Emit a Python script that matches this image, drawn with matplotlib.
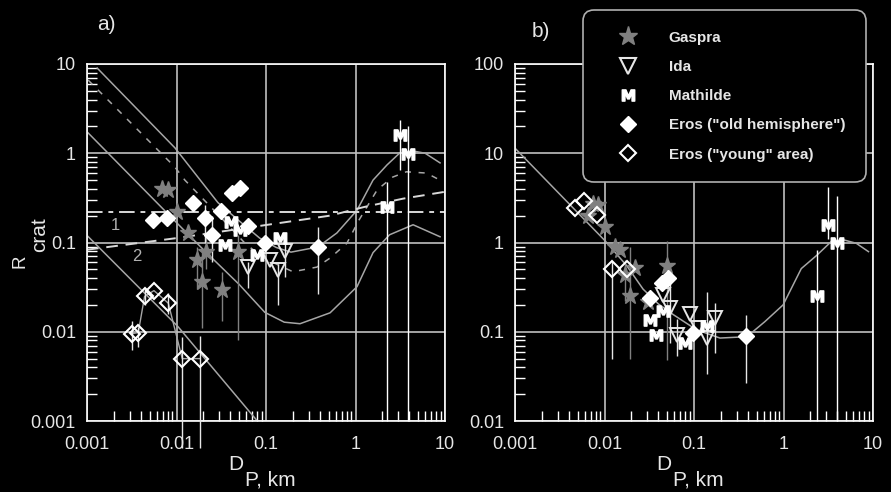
import matplotlib
matplotlib.use('Agg')
import matplotlib.pyplot as plt
import numpy as np
from matplotlib.lines import Line2D
from matplotlib.ticker import LogLocator, FuncFormatter, NullFormatter

plt.rcParams['font.family'] = ['Liberation Sans', 'DejaVu Sans']
nan = np.nan

# ---- panel a) data ----
gas_a_x = [0.0068, 0.0081, 0.010, 0.0136, 0.0216, 0.0168, 0.0191, 0.0319, 0.0486]
gas_a_y = [0.395, 0.39, 0.22, 0.127, 0.079, 0.064, 0.0364, 0.0293, 0.079]
gas_a_lo = [nan, nan, nan, nan, 0.05, 0.03, 0.0109, 0.0132, 0.0081]
gas_a_hi = [nan, nan, nan, nan, 0.12, 0.09, 0.083, 0.047, 0.12]

ida_a_x = [0.0636, 0.111, 0.137, 0.163]
ida_a_y = [0.0532, 0.064, 0.049, 0.081]
ida_a_lo = [0.031, nan, 0.0198, 0.041]
ida_a_hi = [0.061, nan, 0.058, 0.1]

mat_a_x = [0.041, 0.051, 0.035, 0.079, 0.143, 3.17, 3.86, 2.27]
mat_a_y = [0.17, 0.138, 0.094, 0.072, 0.112, 1.6, 0.98, 0.25]
mat_a_lo = [nan, nan, nan, nan, nan, 0.65, 0.001, 0.001]
mat_a_hi = [nan, nan, nan, nan, nan, 2.36, 2.0, 0.48]

old_a_x = [0.0055, 0.0079, 0.0154, 0.0208, 0.0314, 0.0413, 0.0513, 0.0247, 0.0636, 0.098, 0.38]
old_a_y = [0.18, 0.19, 0.28, 0.187, 0.228, 0.357, 0.405, 0.122, 0.152, 0.1, 0.089]
old_a_lo = [nan, nan, nan, 0.1, nan, nan, nan, 0.06, nan, nan, 0.0268]
old_a_hi = [nan, nan, nan, 0.26, nan, nan, nan, 0.2, nan, nan, 0.15]

young_a_x = [0.00316, 0.00374, 0.0044, 0.0056, 0.0081, 0.0116, 0.0183]
young_a_y = [0.0095, 0.0098, 0.0249, 0.0289, 0.0209, 0.005, 0.005]
young_a_lo = [0.0063, 0.0068, 0.02, nan, 0.016, 0.0005, 0.0005]
young_a_hi = [0.0132, 0.0114, 0.03, nan, 0.027, 0.0088, 0.009]

# model curves, panel a)
curve_a1_x = [0.0013, 0.0096, 0.029, 0.05, 0.085, 0.13, 0.19, 0.38, 0.62, 1.04, 1.57, 2.25, 3.1, 4.4, 6.0, 8.8]
curve_a1_y = [9.0, 1.15, 0.28, 0.175, 0.112, 0.088, 0.078, 0.089, 0.128, 0.23, 0.5, 0.74, 1.0, 1.06, 1.0, 0.78]
curve_a2_x = [0.00103, 0.0096, 0.0124, 0.03, 0.06, 0.1, 0.2, 0.37, 0.52, 0.8, 1.1, 1.75, 2.6, 3.7, 6.2, 9.5]
curve_a2_y = [6.6, 0.70, 0.5, 0.2, 0.095, 0.065, 0.047, 0.053, 0.067, 0.098, 0.18, 0.39, 0.54, 0.62, 0.6, 0.48]
curve_a3_x = [0.001, 0.0115, 0.0213, 0.05, 0.097, 0.16, 0.24, 0.52, 1.04, 1.57, 2.4, 4.4, 8.8]
curve_a3_y = [1.74, 0.145, 0.078, 0.034, 0.0165, 0.0128, 0.0123, 0.0163, 0.032, 0.077, 0.122, 0.158, 0.116]
curve_a4_x = [0.001, 0.0104, 0.08]
curve_a4_y = [0.12, 0.0114, 0.001]
line1_x = [0.001, 10]
line1_y = [0.22, 0.22]
line2_x = [0.001, 0.01, 0.14, 0.52, 1.25, 3.4, 10]
line2_y = [0.083, 0.112, 0.165, 0.2, 0.25, 0.31, 0.37]

# ---- panel b) data ----
gas_b_x = [0.0074, 0.0085, 0.0065, 0.0101, 0.0131, 0.0149, 0.0169, 0.0219, 0.0193, 0.0494, 0.0306]
gas_b_y = [2.7, 2.6, 2.0, 1.5, 0.89, 0.83, 0.43, 0.515, 0.25, 0.54, 0.216]
gas_b_lo = [nan, nan, nan, nan, nan, nan, 0.22, nan, 0.05, 0.048, nan]
gas_b_hi = [nan, nan, nan, nan, nan, nan, 0.64, nan, 0.9, 1.05, nan]

ida_b_x = [0.045, 0.054, 0.09, 0.171, 0.064, 0.138, 0.111]
ida_b_y = [0.258, 0.184, 0.16, 0.141, 0.093, 0.085, 0.11]
ida_b_lo = [nan, 0.074, nan, 0.058, 0.054, 0.034, nan]
ida_b_hi = [nan, 0.38, nan, 0.21, 0.14, 0.28, nan]

mat_b_x = [0.032, 0.038, 0.079, 0.138, 0.045, 3.17, 4.0, 2.36]
mat_b_y = [0.137, 0.093, 0.074, 0.115, 0.17, 1.57, 0.98, 0.249]
mat_b_lo = [nan, nan, nan, nan, nan, 1.1, 0.01, 0.01]
mat_b_hi = [nan, nan, nan, nan, nan, 4.2, 3.3, 0.83]

old_b_x = [0.0435, 0.051, 0.0321, 0.0981, 0.386]
old_b_y = [0.35, 0.40, 0.238, 0.096, 0.0887]
old_b_lo = [nan, nan, nan, nan, 0.0266]
old_b_hi = [nan, nan, nan, nan, 0.154]

young_b_x = [0.0047, 0.0059, 0.0083, 0.012, 0.0177]
young_b_y = [2.42, 2.9, 2.03, 0.5, 0.5]
young_b_lo = [nan, nan, nan, 0.05, nan]
young_b_hi = [nan, nan, nan, 0.62, nan]

curve_b_x = [0.001, 0.0101, 0.0177, 0.027, 0.04, 0.059, 0.107, 0.195, 0.39, 0.62, 0.99, 1.58, 2.36, 3.4, 4.7, 6.5, 8.9]
curve_b_y = [11.4, 1.05, 0.55, 0.3, 0.205, 0.155, 0.105, 0.085, 0.088, 0.13, 0.2, 0.51, 0.72, 1.02, 1.07, 0.98, 0.79]

legend_labels = ['Gaspra', 'Ida', 'Mathilde', 'Eros ("old hemisphere")', 'Eros ("young" area)']

BG = 'black'
FG = '#e6e6e6'
GRID = '#c0c0c0'
STAR = '#808080'
CURVE = '#a6a6a6'

W, H = 891, 492
fig = plt.figure(figsize=(W / 100, H / 100), dpi=100, facecolor=BG)


def make_axes(left, right, ylim):
    ax = fig.add_axes([left / W, 1 - 421 / H, (right - left) / W, (421 - 64) / H])
    ax.set_facecolor(BG)
    ax.set_xscale('log')
    ax.set_yscale('log')
    ax.set_xlim(0.001, 10)
    ax.set_ylim(*ylim)
    for s in ax.spines.values():
        s.set_color('white')
        s.set_linewidth(1.2)
    fmt = FuncFormatter(lambda v, _: f'{v:g}')
    ax.xaxis.set_major_locator(LogLocator(base=10, numticks=10))
    ax.yaxis.set_major_locator(LogLocator(base=10, numticks=10))
    ax.xaxis.set_major_formatter(fmt)
    ax.yaxis.set_major_formatter(fmt)
    ax.xaxis.set_minor_locator(LogLocator(base=10, subs=np.arange(2, 10), numticks=20))
    ax.yaxis.set_minor_locator(LogLocator(base=10, subs=np.arange(2, 10), numticks=20))
    ax.xaxis.set_minor_formatter(NullFormatter())
    ax.yaxis.set_minor_formatter(NullFormatter())
    ax.tick_params(which='both', direction='in', color='white', width=1.0,
                   labelcolor=FG, labelsize=13)
    ax.tick_params(which='major', length=0)
    ax.tick_params(which='minor', length=7)
    ax.tick_params(axis='x', which='major', pad=11)
    ax.tick_params(axis='y', which='major', pad=8)
    ax.grid(True, which='major', color=GRID, linewidth=1.2)
    ax.set_axisbelow(True)
    return ax


def errbars(ax, x, lo, hi, color):
    x = np.asarray(x)
    lo = np.asarray(lo)
    hi = np.asarray(hi)
    ok = ~np.isnan(lo)
    ax.vlines(x[ok], lo[ok], hi[ok], colors=color, linewidth=1.0, zorder=3, clip_on=False)


def points(ax, gx, gy, ix, iy, mx, my, ox, oy, yx, yy):
    ax.plot(gx, gy, ls='none', marker='*', ms=12.5, color=STAR, mec=STAR, zorder=5)
    ax.plot(ix, iy, ls='none', marker='v', ms=10, mfc='none', mec=FG, mew=1.4, zorder=5)
    ax.plot(ox, oy, ls='none', marker='D', ms=8, color='white', mec='white', zorder=6)
    ax.plot(yx, yy, ls='none', marker='D', ms=8, mfc='none', mec='white', mew=1.5, zorder=6)
    ax.plot(mx, my, ls='none', marker=r'$\mathbf{M}$', ms=9, color='white', zorder=7)


# ---- panel a) ----
ax1 = make_axes(87, 445, (0.001, 10))
ax1.plot(curve_a1_x, curve_a1_y, color=CURVE, lw=1.1, zorder=2)
ax1.plot(curve_a2_x, curve_a2_y, color=CURVE, lw=1.1, dashes=(4, 5), zorder=2)
ax1.plot(curve_a3_x, curve_a3_y, color=CURVE, lw=1.1, zorder=2)
ax1.plot(curve_a4_x, curve_a4_y, color=CURVE, lw=1.1, zorder=2)
ax1.plot(line1_x, line1_y, color='#d8d8d8', lw=1.4, dashes=(8, 3, 2.5, 3), zorder=2)
ax1.plot(line2_x, line2_y, color='#d8d8d8', lw=1.4, dashes=(6, 4), zorder=2)
ax1.plot(young_a_x, young_a_y, color=CURVE, lw=1.0, zorder=2)
ax1.text(0.00205, 0.157, '1', color='#b0b0b0', fontsize=12, ha='center', va='center')
ax1.text(0.0036, 0.069, '2', color='#b0b0b0', fontsize=12, ha='center', va='center')

errbars(ax1, gas_a_x, gas_a_lo, gas_a_hi, STAR)
errbars(ax1, ida_a_x, ida_a_lo, ida_a_hi, FG)
errbars(ax1, mat_a_x, mat_a_lo, mat_a_hi, 'white')
errbars(ax1, old_a_x, old_a_lo, old_a_hi, FG)
errbars(ax1, young_a_x, young_a_lo, young_a_hi, FG)
points(ax1, gas_a_x, gas_a_y, ida_a_x, ida_a_y, mat_a_x, mat_a_y,
       old_a_x, old_a_y, young_a_x, young_a_y)

# ---- panel b) ----
ax2 = make_axes(515, 873, (0.01, 100))
ax2.plot(curve_b_x, curve_b_y, color=CURVE, lw=1.1, zorder=2)
errbars(ax2, gas_b_x, gas_b_lo, gas_b_hi, STAR)
errbars(ax2, ida_b_x, ida_b_lo, ida_b_hi, FG)
errbars(ax2, mat_b_x, mat_b_lo, mat_b_hi, 'white')
errbars(ax2, old_b_x, old_b_lo, old_b_hi, FG)
errbars(ax2, young_b_x, young_b_lo, young_b_hi, FG)
points(ax2, gas_b_x, gas_b_y, ida_b_x, ida_b_y, mat_b_x, mat_b_y,
       old_b_x, old_b_y, young_b_x, young_b_y)

# legend
handles = [
    Line2D([], [], ls='none', marker='*', ms=14, color=STAR),
    Line2D([], [], ls='none', marker='v', ms=11, mfc='none', mec=FG, mew=1.5),
    Line2D([], [], ls='none', marker=r'$\mathbf{M}$', ms=9, color='white'),
    Line2D([], [], ls='none', marker='D', ms=8.5, color='white'),
    Line2D([], [], ls='none', marker='D', ms=8.5, mfc='none', mec='white', mew=1.5),
]
leg = ax2.legend(handles, legend_labels, loc='upper left',
                 bbox_to_anchor=(583 / W, 1 - 10 / H), bbox_transform=fig.transFigure,
                 prop={'weight': 'bold', 'size': 11}, labelcolor=FG,
                 borderpad=1.35, labelspacing=1.0, handlelength=3.25, handletextpad=1.0,
                 borderaxespad=0, frameon=True, fancybox=True, framealpha=1)
frame = leg.get_frame()
frame.set_facecolor(BG)
frame.set_edgecolor('#b0b0b0')
frame.set_linewidth(1.2)
frame.set_boxstyle('round,pad=0,rounding_size=0.7')
leg.set_zorder(20)

# axis labels and panel tags
fig.text(97 / W, 1 - 30 / H, 'a)', color=FG, fontsize=15, ha='left', va='baseline')
fig.text(532 / W, 1 - 37 / H, 'b)', color=FG, fontsize=15, ha='left', va='baseline')
fig.text(29 / W, 1 - 268 / H, 'R', color=FG, fontsize=13.5, rotation=90, ha='right', va='bottom')
fig.text(49 / W, 1 - 252 / H, 'crat', color=FG, fontsize=15, rotation=90, ha='right', va='bottom')
for cx in (266, 694):
    fig.text((cx - 38) / W, 1 - 470 / H, 'D', color=FG, fontsize=15, ha='left', va='baseline')
    fig.text((cx - 21) / W, 1 - 485 / H, 'P, km', color=FG, fontsize=15, ha='left', va='baseline')

fig.savefig('out.png', dpi=100, facecolor=BG)
plt.close('all')
